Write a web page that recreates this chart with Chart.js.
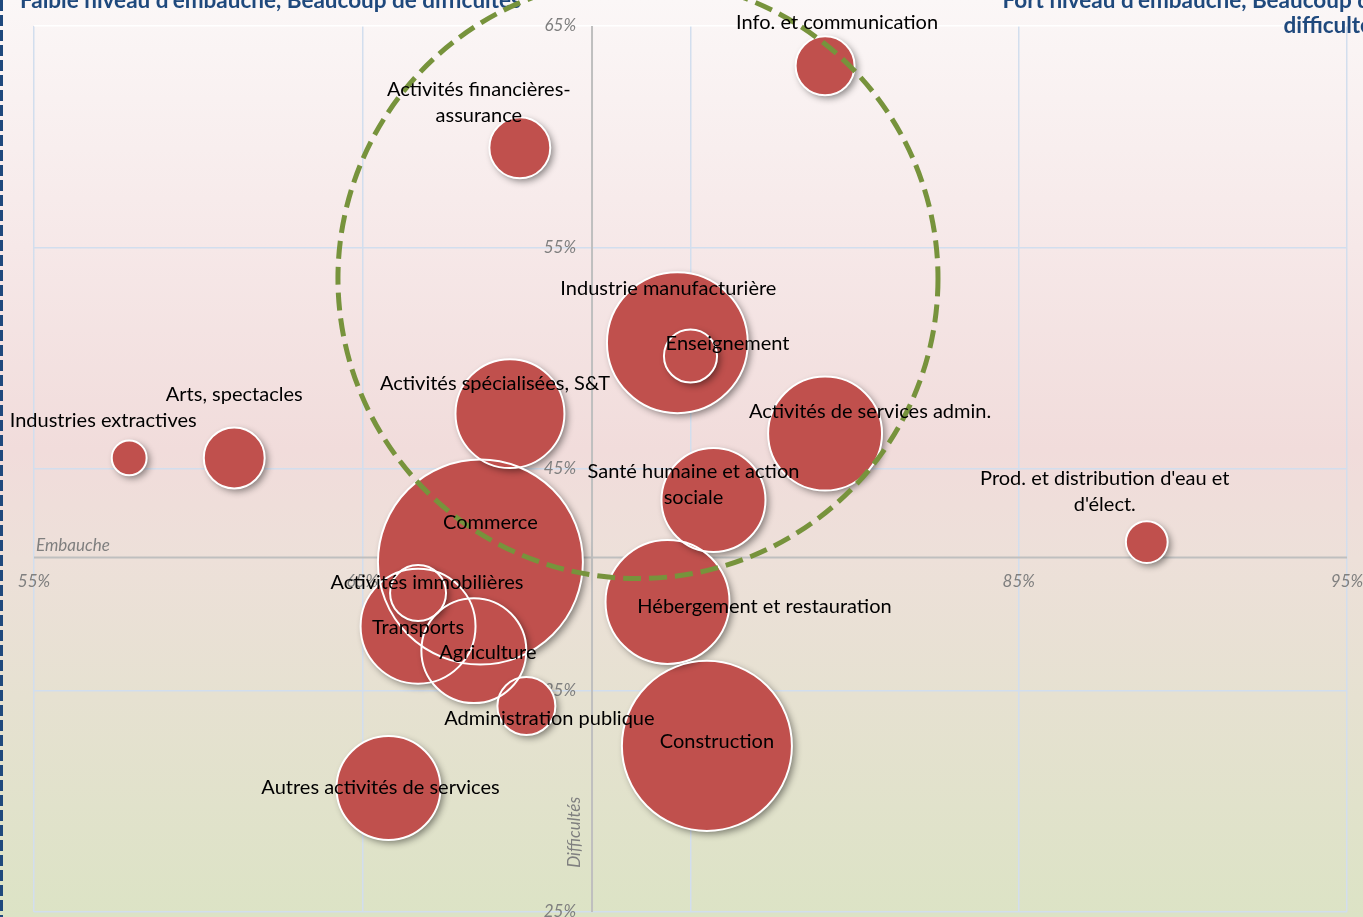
<!DOCTYPE html>
<html lang="fr">
<head>
<meta charset="utf-8">
<title>Embauche et difficultés par secteur</title>
<script src="https://cdn.jsdelivr.net/npm/chart.js@4.4.1/dist/chart.umd.min.js"></script>
<style>
    html, body { margin: 0; padding: 0; background: #fff; }
    #wrap { width: 1363px; height: 917px; position: relative; }
</style>
</head>
<body>
<div id="wrap"><canvas id="myChart" width="1363" height="917"></canvas></div>
<script>
// secteurs et valeurs (en %)
const secteurs = [
    "Commerce", "Construction", "Industrie manufacturière", "Hébergement et restauration",
    "Transports", "Activités de services admin.", "Activités spécialisées, S&T", "Agriculture",
    "Santé humaine et action sociale", "Autres activités de services", "Activités financières-assurance",
    "Arts, spectacles", "Info. et communication", "Administration publique", "Activités immobilières",
    "Enseignement", "Prod. et distribution d'eau et d'élect.", "Industries extractives"
]
const embauche = [68.6, 75.5, 74.6, 74.3, 66.7, 79.1, 69.5, 68.4, 75.7, 65.8, 69.8, 61.1, 79.1, 70.0, 66.7, 75.0, 88.9, 57.9]
const difficultes = [40.8, 32.5, 50.7, 39.0, 37.9, 46.6, 47.5, 36.8, 43.6, 30.6, 59.5, 45.5, 63.2, 34.3, 39.4, 50.1, 41.7, 45.5]
// poids relatif de chaque secteur (taille de la bulle)
const poids = [107.1, 74.0, 51.0, 39.7, 34.2, 33.6, 30.8, 28.6, 28.1, 28.1, 9.9, 9.9, 9.3, 9.0, 8.4, 7.6, 4.8, 3.4]

const xTicks = [55, 65, 75, 85, 95]
const yTicks = [25, 35, 45, 55, 65]

// zone entourée : centre et rayon (en points d'embauche)
const zoneCentre = { x: 73.4, y: 53.6 }
const zoneRayon = 9.14

// découpage des étiquettes et décalage en pixels par rapport au centre de la bulle
const etiquettes = {
    "Industries extractives": { lignes: ["Industries extractives"], dx: -26, dy: -37 },
    "Arts, spectacles": { lignes: ["Arts, spectacles"], dx: 0, dy: -63 },
    "Activités financières-assurance": { lignes: ["Activités financières-", "assurance"], dx: -41, dy: -45 },
    "Info. et communication": { lignes: ["Info. et communication"], dx: 12, dy: -43 },
    "Industrie manufacturière": { lignes: ["Industrie manufacturière"], dx: -9, dy: -54 },
    "Enseignement": { lignes: ["Enseignement"], dx: 37, dy: -12 },
    "Activités spécialisées, S&T": { lignes: ["Activités spécialisées, S&T"], dx: -15, dy: -30 },
    "Activités de services admin.": { lignes: ["Activités de services admin."], dx: 45, dy: -22 },
    "Santé humaine et action sociale": { lignes: ["Santé humaine et action", "sociale"], dx: -20, dy: -15 },
    "Prod. et distribution d'eau et d'élect.": { lignes: ["Prod. et distribution d'eau et", "d'élect."], dx: -42, dy: -51 },
    "Commerce": { lignes: ["Commerce"], dx: 10, dy: -39 },
    "Activités immobilières": { lignes: ["Activités immobilières"], dx: 9, dy: -10 },
    "Transports": { lignes: ["Transports"], dx: 0, dy: 1 },
    "Agriculture": { lignes: ["Agriculture"], dx: 14, dy: 2 },
    "Hébergement et restauration": { lignes: ["Hébergement et restauration"], dx: 97, dy: 5 },
    "Administration publique": { lignes: ["Administration publique"], dx: 23, dy: 13 },
    "Construction": { lignes: ["Construction"], dx: 10, dy: -4 },
    "Autres activités de services": { lignes: ["Autres activités de services"], dx: -8, dy: 0 }
}

const police = "Lato, 'Open Sans', sans-serif"
const gris = "#7f7f7f"

let bulles = secteurs.map((s, i) => ({ x: embauche[i], y: difficultes[i], r: 10 * Math.sqrt(poids[i]) - 1 }))

// fond dégradé et bordure pointillée
const fondPlugin = {
    id: "fond",
    beforeDraw(chart) {
        const ctx = chart.ctx
        const w = chart.width, h = chart.height
        ctx.save()
        let grad = ctx.createLinearGradient(0, 0, 0, h)
        grad.addColorStop(0, "#fbf7f7")
        grad.addColorStop(0.27, "#f6e8e8")
        grad.addColorStop(0.49, "#f1dcdb")
        grad.addColorStop(0.61, "#ede0d9")
        grad.addColorStop(0.76, "#e6e1d1")
        grad.addColorStop(1, "#dce3c5")
        ctx.fillStyle = grad
        ctx.fillRect(0, 0, w, h)

        ctx.strokeStyle = "#1f497d"
        ctx.lineWidth = 3
        ctx.setLineDash([11, 4])
        ctx.beginPath()
        ctx.moveTo(1.5, 0)
        ctx.lineTo(1.5, h)
        ctx.stroke()
        ctx.restore()
    }
}

// ombre sous les bulles pleines (jeu de données "Secteurs")
const ombrePlugin = {
    id: "ombre",
    beforeDatasetDraw(chart, args) {
        if (args.index !== 1) return
        const ctx = chart.ctx
        ctx.save()
        ctx.shadowColor = "rgba(0, 0, 0, 0.45)"
        ctx.shadowBlur = 7
        ctx.shadowOffsetX = 3
        ctx.shadowOffsetY = 3
    },
    afterDatasetDraw(chart, args) {
        if (args.index !== 1) return
        chart.ctx.restore()
    }
}

// titres, axes qui se croisent, graduations, zone entourée et étiquettes
const decorPlugin = {
    id: "decor",
    beforeDatasetsDraw(chart) {
        const ctx = chart.ctx
        const xs = chart.scales.x, ys = chart.scales.y
        const area = chart.chartArea
        const xAxe = xs.getPixelForValue(72)
        const yAxe = ys.getPixelForValue(41)
        ctx.save()
        ctx.fillStyle = "#1f497d"
        ctx.font = "bold 22.5px " + police
        ctx.textBaseline = "alphabetic"
        ctx.textAlign = "left"
        ctx.fillText("Faible niveau d'embauche, Beaucoup de difficultés", 20, 8)
        ctx.textAlign = "right"
        ctx.fillText("Fort niveau d'embauche, Beaucoup de", 1382, 8)
        ctx.fillText("difficultés", 1382, 33)

        ctx.strokeStyle = "#bfbfbf"
        ctx.lineWidth = 2
        ctx.beginPath()
        ctx.moveTo(area.left, yAxe)
        ctx.lineTo(area.right, yAxe)
        ctx.moveTo(xAxe, area.top)
        ctx.lineTo(xAxe, area.bottom)
        ctx.stroke()

        ctx.fillStyle = gris
        ctx.font = "italic 17px " + police
        ctx.textBaseline = "middle"
        ctx.textAlign = "center"
        xTicks.forEach(v => ctx.fillText(v + "%", xs.getPixelForValue(v), yAxe + 24))
        ctx.textAlign = "right"
        yTicks.forEach(v => ctx.fillText(v + "%", xAxe - 16, ys.getPixelForValue(v)))

        ctx.textAlign = "left"
        ctx.fillText("Embauche", area.left + 2, yAxe - 12)
        ctx.translate(xAxe - 18, ys.getPixelForValue(28.6))
        ctx.rotate(-Math.PI / 2)
        ctx.textAlign = "center"
        ctx.fillText("Difficultés", 0, 0)
        ctx.restore()
    },
    afterDatasetsDraw(chart) {
        const ctx = chart.ctx
        const xs = chart.scales.x, ys = chart.scales.y
        ctx.save()
        // cercle pointillé vert
        const cx = xs.getPixelForValue(zoneCentre.x)
        const cy = ys.getPixelForValue(zoneCentre.y)
        const rayon = xs.getPixelForValue(zoneCentre.x + zoneRayon) - cx
        ctx.strokeStyle = "#77933c"
        ctx.lineWidth = 5
        ctx.setLineDash([18, 8])
        ctx.beginPath()
        ctx.arc(cx, cy, rayon, 0, Math.PI * 2)
        ctx.stroke()
        ctx.setLineDash([])

        ctx.fillStyle = "#000"
        ctx.font = "20px " + police
        ctx.textAlign = "center"
        ctx.textBaseline = "middle"
        secteurs.forEach((s, i) => {
            const e = etiquettes[s]
            const px = xs.getPixelForValue(embauche[i]) + e.dx
            const py = ys.getPixelForValue(difficultes[i]) + e.dy
            const top = py - (e.lignes.length - 1) * 13
            e.lignes.forEach((l, k) => ctx.fillText(l, px, top + k * 26))
        })
        ctx.restore()
    }
}

function initPage() {
    const ctx = document.getElementById("myChart").getContext("2d")
    const myChart = new Chart(ctx, {
        type: "bubble",
        data: {
            datasets: [
                {
                    // contours blancs, dessinés après les bulles pleines
                    label: "Contours",
                    data: bulles,
                    backgroundColor: "rgba(0,0,0,0)",
                    borderColor: "#ffffff",
                    borderWidth: 2
                },
                {
                    label: "Secteurs",
                    data: bulles,
                    backgroundColor: "#c0504d",
                    borderWidth: 0
                }
            ]
        },
        options: {
            responsive: false,
            animation: false,
            events: [],
            layout: {
                autoPadding: false,
                padding: { left: 34, right: 16, top: 26, bottom: 5 }
            },
            plugins: {
                legend: { display: false },
                tooltip: { enabled: false }
            },
            scales: {
                x: {
                    min: 55,
                    max: 95,
                    ticks: { display: false, stepSize: 10 },
                    border: { display: false },
                    grid: { color: "#d2deee", lineWidth: 1.5, drawTicks: false }
                },
                y: {
                    min: 25,
                    max: 65,
                    ticks: { display: false, stepSize: 10 },
                    border: { display: false },
                    grid: {
                        color: c => c.tick && c.tick.value === 65 ? "#ffffff" : "#d2deee",
                        lineWidth: 1.5,
                        drawTicks: false
                    }
                }
            }
        },
        plugins: [fondPlugin, ombrePlugin, decorPlugin]
    })
}

initPage()
</script>
</body>
</html>
